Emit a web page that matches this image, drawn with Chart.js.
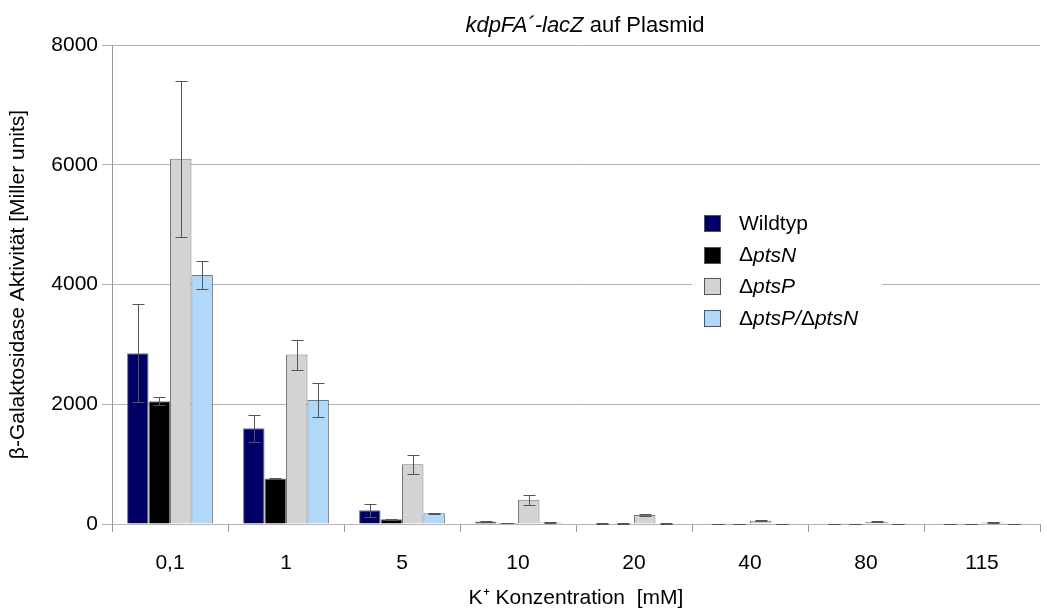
<!DOCTYPE html>
<html>
<head>
<meta charset="utf-8">
<script src="https://cdn.jsdelivr.net/npm/chart.js@4.4.1/dist/chart.umd.min.js"></script>
<style>
  html, body { margin: 0; padding: 0; background: #fff; }
  #wrap { width: 1047px; height: 615px; }
</style>
</head>
<body>
<div id="wrap"><canvas id="grafico"></canvas></div>
<script>
// DATOS
const kategorien = ["0,1", "1", "5", "10", "20", "40", "80", "115"];
const serienNamen = ["Wildtyp", "ΔptsN", "ΔptsP", "ΔptsP/ΔptsN"];

const wildtyp = [2850, 1600, 230, 40, 10, 5, 5, 5];
const ptsN = [2050, 760, 80, 15, 8, 5, 5, 5];
const ptsP = [6100, 2830, 1000, 405, 150, 55, 35, 25];
const ptsPptsN = [4160, 2070, 180, 25, 10, 5, 5, 5];

const errWildtyp = [820, 225, 105, 10, 3, 2, 2, 2];
const errPtsN = [70, 10, 5, 3, 2, 2, 2, 2];
const errPtsP = [1300, 250, 160, 85, 20, 10, 8, 6];
const errPtsPptsN = [235, 285, 10, 5, 3, 2, 2, 2];

const farben = ["#000066", "#000000", "#d3d3d3", "#b0d8fa"];
const schrift = "'Liberation Sans', Arial, sans-serif";

// TEXTO MIXTO (normal / cursiva)
function textoMixto(ctx, partes, x, y, size) {
  let pos = x;
  partes.forEach(p => {
    ctx.font = (p[1] ? "italic " : "") + size + "px " + schrift;
    ctx.fillText(p[0], pos, y);
    pos += ctx.measureText(p[0]).width;
  });
}

function anchoMixto(ctx, partes, size) {
  let w = 0;
  partes.forEach(p => {
    ctx.font = (p[1] ? "italic " : "") + size + "px " + schrift;
    w += ctx.measureText(p[0]).width;
  });
  return w;
}

function partesDe(label) {
  if (label === "Wildtyp") return [[label, false]];
  return label.split(/(Δ)/).filter(s => s).map(s => [s, s !== "Δ"]);
}

// BARRAS DE ERROR + TITULO + LEYENDA
const extras = {
  id: "extras",
  afterDatasetsDraw(chart) {
    const ctx = chart.ctx;
    const y = chart.scales.y;
    ctx.save();
    ctx.strokeStyle = "#555";
    ctx.lineWidth = 1;
    chart.data.datasets.forEach((ds, i) => {
      chart.getDatasetMeta(i).data.forEach((bar, j) => {
        const v = ds.data[j], e = ds.errores[j];
        const yt = Math.round(y.getPixelForValue(v + e)) + 0.5;
        const yb = Math.round(y.getPixelForValue(Math.max(v - e, 0))) + 0.5;
        const x = Math.round(bar.x) + 0.5;
        ctx.beginPath();
        ctx.moveTo(x, yt); ctx.lineTo(x, yb);
        ctx.moveTo(x - 6, yt); ctx.lineTo(x + 6, yt);
        ctx.moveTo(x - 6, yb); ctx.lineTo(x + 6, yb);
        ctx.stroke();
      });
    });

    // titulo
    ctx.fillStyle = "#000";
    ctx.textBaseline = "alphabetic";
    const titulo = [["kdpFA´-lacZ", true], [" auf Plasmid", false]];
    const tw = anchoMixto(ctx, titulo, 22);
    textoMixto(ctx, titulo, 585 - tw / 2, 32, 22);

    // leyenda
    ctx.fillStyle = "#fff";
    ctx.fillRect(692, 205, 190, 132);
    chart.data.datasets.forEach((ds, i) => {
      const cy = 223 + i * 31.7;
      ctx.fillStyle = ds.backgroundColor;
      ctx.fillRect(704.5, Math.round(cy - 8) + 0.5, 16, 16);
      ctx.strokeStyle = "#555";
      ctx.strokeRect(704.5, Math.round(cy - 8) + 0.5, 16, 16);
      ctx.fillStyle = "#000";
      ctx.textBaseline = "middle";
      textoMixto(ctx, partesDe(ds.label), 739, cy + 1, 21);
    });
    ctx.restore();
  }
};

const ctx = document.getElementById("grafico");

new Chart(ctx, {
  type: "bar",
  data: {
    labels: kategorien,
    datasets: [
      { label: serienNamen[0], data: wildtyp, errores: errWildtyp, backgroundColor: farben[0] },
      { label: serienNamen[1], data: ptsN, errores: errPtsN, backgroundColor: farben[1] },
      { label: serienNamen[2], data: ptsP, errores: errPtsP, backgroundColor: farben[2] },
      { label: serienNamen[3], data: ptsPptsN, errores: errPtsPptsN, backgroundColor: farben[3] }
    ].map(d => Object.assign(d, {
      borderColor: "#777",
      borderWidth: 1,
      categoryPercentage: 0.74,
      barPercentage: 1.0
    }))
  },
  options: {
    responsive: true,
    maintainAspectRatio: false,
    animation: false,
    layout: { padding: { top: 45, right: 7, left: 0, bottom: 0 } },
    plugins: {
      legend: { display: false },
      tooltip: { enabled: false }
    },
    scales: {
      x: {
        grid: {
          display: true,
          drawOnChartArea: false,
          offset: true,
          tickLength: 8,
          color: "#999"
        },
        border: { color: "#b3b3b3" },
        ticks: {
          color: "#000",
          padding: 19,
          font: { family: schrift, size: 21 }
        },
        title: {
          display: true,
          text: "K⁺ Konzentration  [mM]",
          color: "#000",
          font: { family: schrift, size: 21 },
          padding: { top: 0, bottom: 4 }
        },
        afterFit: s => { s.height = 91; }
      },
      y: {
        min: 0,
        max: 8000,
        ticks: {
          stepSize: 2000,
          color: "#000",
          padding: 4,
          font: { family: schrift, size: 21 },
          callback: v => String(v)
        },
        grid: {
          color: "#b3b3b3",
          tickLength: 10
        },
        border: { color: "#999" },
        title: {
          display: true,
          text: "β-Galaktosidase Aktivität [Miller units]",
          color: "#000",
          font: { family: schrift, size: 21 },
          padding: { top: 6, bottom: 8 }
        },
        afterFit: s => { s.width = 112; }
      }
    }
  },
  plugins: [extras]
});
</script>
</body>
</html>
